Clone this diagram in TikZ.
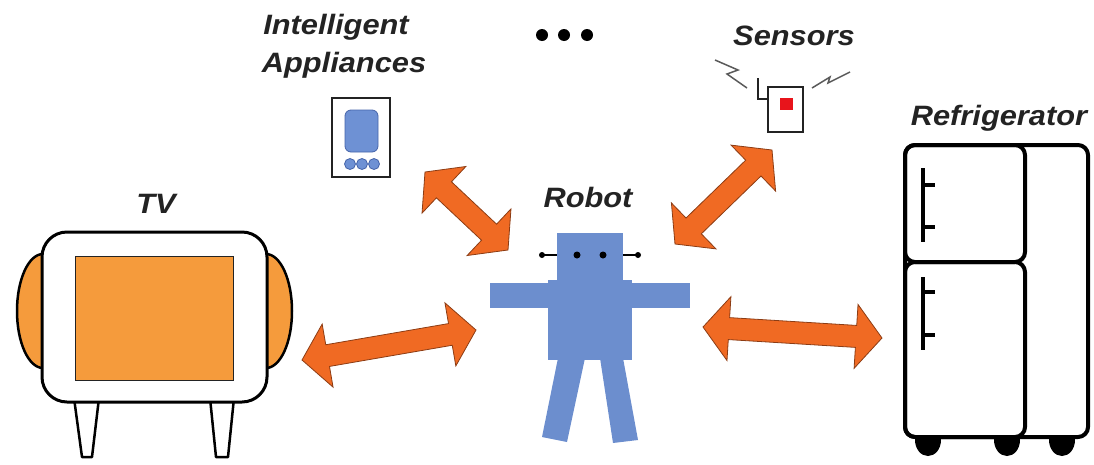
\documentclass[tikz,border=0pt]{standalone}
\usepackage{fontspec}
\setmainfont{Liberation Sans}
\usetikzlibrary{calc}

\definecolor{linkorange}{RGB}{240,106,35}
\definecolor{linkedge}{RGB}{140,60,20}
\definecolor{screenorange}{RGB}{245,155,60}
\definecolor{robotblue}{RGB}{108,142,206}
\definecolor{iconblue}{RGB}{110,145,212}
\definecolor{iconedge}{RGB}{70,100,170}
\definecolor{inkgray}{RGB}{35,35,35}
\definecolor{wavegray}{RGB}{90,90,90}
\definecolor{alarmred}{RGB}{232,20,27}

\tikzset{
  lbl/.style={font=\fontsize{28}{32}\selectfont\bfseries\itshape\addfontfeature{FakeStretch=1.1},
    text=inkgray, inner sep=0pt, anchor=base},
  link/.style={fill=linkorange, draw=linkedge, line width=0.8pt, line join=miter},
  tvline/.style={draw=black, line width=3pt, line join=round},
  fridgeline/.style={draw=black, line width=4pt, line join=round},
  robotpart/.style={fill=robotblue, draw=none},
}

% double-headed block arrow between two named points
\newcommand\linkarrow[2]{%
  \path ($(#1)!26pt!(#2)$) coordinate (h1) ($(#2)!26pt!(#1)$) coordinate (h2);
  \filldraw[link] (#1) -- ($(h1)!32pt!90:(#2)$) -- ($(h1)!11pt!90:(#2)$)
    -- ($(h2)!11pt!-90:(#1)$) -- ($(h2)!32pt!-90:(#1)$) -- (#2)
    -- ($(h2)!32pt!90:(#1)$) -- ($(h2)!11pt!90:(#1)$)
    -- ($(h1)!11pt!-90:(#2)$) -- ($(h1)!32pt!-90:(#2)$) -- cycle;}

\begin{document}
\begin{tikzpicture}[x=1pt,y=-1pt]
\useasboundingbox (0,0) rectangle (1094,464);

% ---------- labels ----------
\node[lbl] (tvlabel) at (156,213) {TV};
\node[lbl] (robotlabel) at (588,207) {Robot};
\node[lbl] (fridgelabel) at (999,125) {Refrigerator};
\node[lbl] (applabel1) at (336,34) {Intelligent};
\node[lbl] (applabel2) at (344,72) {Appliances};
\node[lbl] (senslabel) at (794,45) {Sensors};

% ---------- ellipsis ----------
\foreach \x/\n in {542/d1,564/d2,587/d3}
  \fill[black] (\x,35) circle[radius=6pt] coordinate (\n);

% ---------- TV ----------
\filldraw[fill=screenorange, tvline, line width=2.5pt] (43,311) ellipse[x radius=26, y radius=57];
\filldraw[fill=screenorange, tvline, line width=2.5pt] (266,311) ellipse[x radius=26, y radius=57];
\filldraw[fill=white, tvline, line width=2.5pt] (74,398) -- (99,398) -- (92,457) -- (82,457) -- cycle;
\filldraw[fill=white, tvline, line width=2.5pt] (210,398) -- (234,398) -- (228,457) -- (216,457) -- cycle;
\filldraw[fill=white, tvline, rounded corners=25pt] (42,232) rectangle (267,402);
\filldraw[fill=screenorange, draw=inkgray, line width=0.8pt] (75,256) rectangle (233,380);

% ---------- intelligent appliance ----------
\draw[draw=inkgray, line width=2pt, fill=white] (332,98) rectangle (390,177);
\filldraw[fill=iconblue, draw=iconedge, line width=0.8pt, rounded corners=6pt] (345,110) rectangle (378,152);
\foreach \x in {350,362,374}
  \filldraw[fill=iconblue, draw=iconedge, line width=0.8pt] (\x,164) circle[radius=5.5pt];

% ---------- sensor ----------
\draw[draw=inkgray, line width=2pt, fill=white] (768,87) rectangle (803,132);
\fill[alarmred] (780,98) rectangle (793,110);
\draw[draw=inkgray, line width=2pt] (758,78) -- (758,99) -- (768,99);
\draw[draw=wavegray, line width=1.5pt] (715,60) -- (738,70) -- (727,74) -- (747,88);
\draw[draw=wavegray, line width=1.5pt] (812,88) -- (830,77) -- (828,83) -- (850,72);

% ---------- robot ----------
\fill[robotpart] (558,358) -- (585,358) -- (567,442) -- (542,437) -- cycle;
\fill[robotpart] (600,358) -- (623,358) -- (638,440) -- (613,443) -- cycle;
\fill[robotpart] (548,280) rectangle (632,360);
\fill[robotpart] (490,283) rectangle (690,308);
\fill[robotpart] (557,233) rectangle (623,285);
\fill[black] (577,255) circle[radius=3.5pt] (603,255) circle[radius=3.5pt];
\draw[black, line width=1.8pt] (542,255) -- (557,255) (623,255) -- (638,255);
\fill[black] (542,255) circle[radius=3pt] (638,255) circle[radius=3pt];

% ---------- refrigerator ----------
\foreach \x in {928,1007,1062}
  \fill[black] (\x,440) ellipse[x radius=13, y radius=16];
\filldraw[fill=white, fridgeline, rounded corners=10pt] (905,145) rectangle (1088,437);
\draw[fridgeline, rounded corners=10pt] (905,145) rectangle (1025,262);
\draw[fridgeline, rounded corners=10pt] (905,262) rectangle (1025,437);
\draw[black, line width=3.5pt] (923,168) -- (923,242) (923,185) -- (935,185) (923,227) -- (935,227);
\draw[black, line width=3.5pt] (923,277) -- (923,350) (923,292) -- (935,292) (923,335) -- (935,335);

% ---------- connectors ----------
\coordinate (tvport) at (302,360);
\coordinate (robotW) at (476,330);
\coordinate (appport) at (425,172);
\coordinate (robotNW) at (508,250);
\coordinate (sensport) at (772,150);
\coordinate (robotNE) at (675,244);
\coordinate (robotE) at (703,327);
\coordinate (fridgeport) at (882,338);

\linkarrow{tvport}{robotW}
\linkarrow{appport}{robotNW}
\linkarrow{sensport}{robotNE}
\linkarrow{robotE}{fridgeport}
\end{tikzpicture}
\end{document}
